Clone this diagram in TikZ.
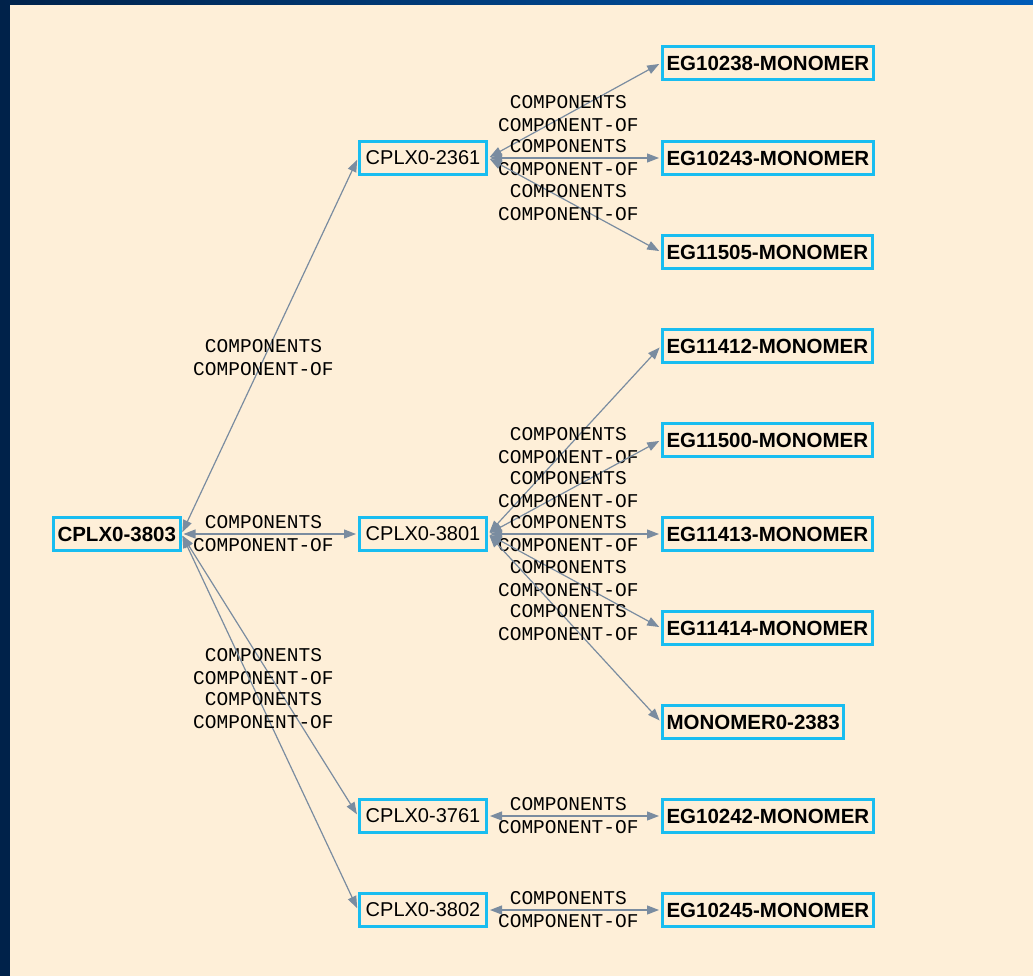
\documentclass[tikz,border=0pt]{standalone}
\usepackage{fontspec}
\setmainfont{Liberation Sans}
\newfontfamily\relfont{Liberation Mono}
\usepackage{tikz}
\usetikzlibrary{arrows.meta,positioning}
\definecolor{cream}{RGB}{254,239,216}
\definecolor{boxblue}{RGB}{25,189,240}
\definecolor{edgegray}{RGB}{122,140,160}
\definecolor{navy}{RGB}{0,34,74}
\definecolor{topblue}{RGB}{0,92,184}
\tikzstyle{link} = [draw=edgegray, line width=1.2pt, {Triangle[length=12pt,width=9pt]}-{Triangle[length=12pt,width=9pt]}, shorten >=2pt, shorten <=2pt]
\tikzstyle{rel} = [font=\relfont\fontsize{19.5}{23}\selectfont, align=center, text=black, inner sep=0pt, pos=0.47, xshift=-1pt]

\begin{document}
\begin{tikzpicture}[x=1pt, y=-1pt]
			\tikzstyle{box} = [rectangle, draw=boxblue, line width=3pt, fill=cream, anchor=west, minimum height=33pt, inner xsep=4pt, font=\fontsize{20.5}{24}\selectfont\bfseries];
			\tikzstyle{complex} = [box, minimum width=127pt, font=\fontsize{20}{24}\selectfont];
			% frame
			\fill[navy] (0,0) rectangle (1033,976);
			\shade[left color=navy, right color=topblue] (0,0) rectangle (1033,5);
			\fill[cream] (10,5) rectangle (1033,976);
			\useasboundingbox (0,0) rectangle (1033,976);
			% complexes
			\node (cplx3803) [box] at (52,534) {CPLX0-3803};
			\node (cplx2361) [complex] at (358,158) {CPLX0-2361};
			\node (cplx3801) [complex] at (358,534) {CPLX0-3801};
			\node (cplx3761) [complex] at (358,816) {CPLX0-3761};
			\node (cplx3802) [complex] at (358,910) {CPLX0-3802};
			% monomers
			\node (eg10238) [box] at (661,63) {EG10238-MONOMER};
			\node (eg10243) [box] at (661,158) {EG10243-MONOMER};
			\node (eg11505) [box] at (661,252) {EG11505-MONOMER};
			\node (eg11412) [box] at (661,346) {EG11412-MONOMER};
			\node (eg11500) [box] at (661,440) {EG11500-MONOMER};
			\node (eg11413) [box] at (661,534) {EG11413-MONOMER};
			\node (eg11414) [box] at (661,628) {EG11414-MONOMER};
			\node (mono2383) [box] at (661,722) {MONOMER0-2383};
			\node (eg10242) [box] at (661,816) {EG10242-MONOMER};
			\node (eg10245) [box] at (661,910) {EG10245-MONOMER};
			% links
			\draw [link] (cplx3803.east) -- (cplx2361.west) node [rel] {COMPONENTS\\COMPONENT-OF};
			\draw [link] (cplx3803.east) -- (cplx3801.west) node [rel] {COMPONENTS\\COMPONENT-OF};
			\draw [link] (cplx3803.east) -- (cplx3761.west) node [rel] {COMPONENTS\\COMPONENT-OF};
			\draw [link] (cplx3803.east) -- (cplx3802.west) node [rel] {COMPONENTS\\COMPONENT-OF};
			\draw [link] (cplx2361.east) -- (eg10238.west) node [rel] {COMPONENTS\\COMPONENT-OF};
			\draw [link] (cplx2361.east) -- (eg10243.west) node [rel] {COMPONENTS\\COMPONENT-OF};
			\draw [link] (cplx2361.east) -- (eg11505.west) node [rel] {COMPONENTS\\COMPONENT-OF};
			\draw [link] (cplx3801.east) -- (eg11412.west) node [rel] {COMPONENTS\\COMPONENT-OF};
			\draw [link] (cplx3801.east) -- (eg11500.west) node [rel] {COMPONENTS\\COMPONENT-OF};
			\draw [link] (cplx3801.east) -- (eg11413.west) node [rel] {COMPONENTS\\COMPONENT-OF};
			\draw [link] (cplx3801.east) -- (eg11414.west) node [rel] {COMPONENTS\\COMPONENT-OF};
			\draw [link] (cplx3801.east) -- (mono2383.west) node [rel] {COMPONENTS\\COMPONENT-OF};
			\draw [link] (cplx3761.east) -- (eg10242.west) node [rel] {COMPONENTS\\COMPONENT-OF};
			\draw [link] (cplx3802.east) -- (eg10245.west) node [rel] {COMPONENTS\\COMPONENT-OF};
		\end{tikzpicture}
\end{document}
